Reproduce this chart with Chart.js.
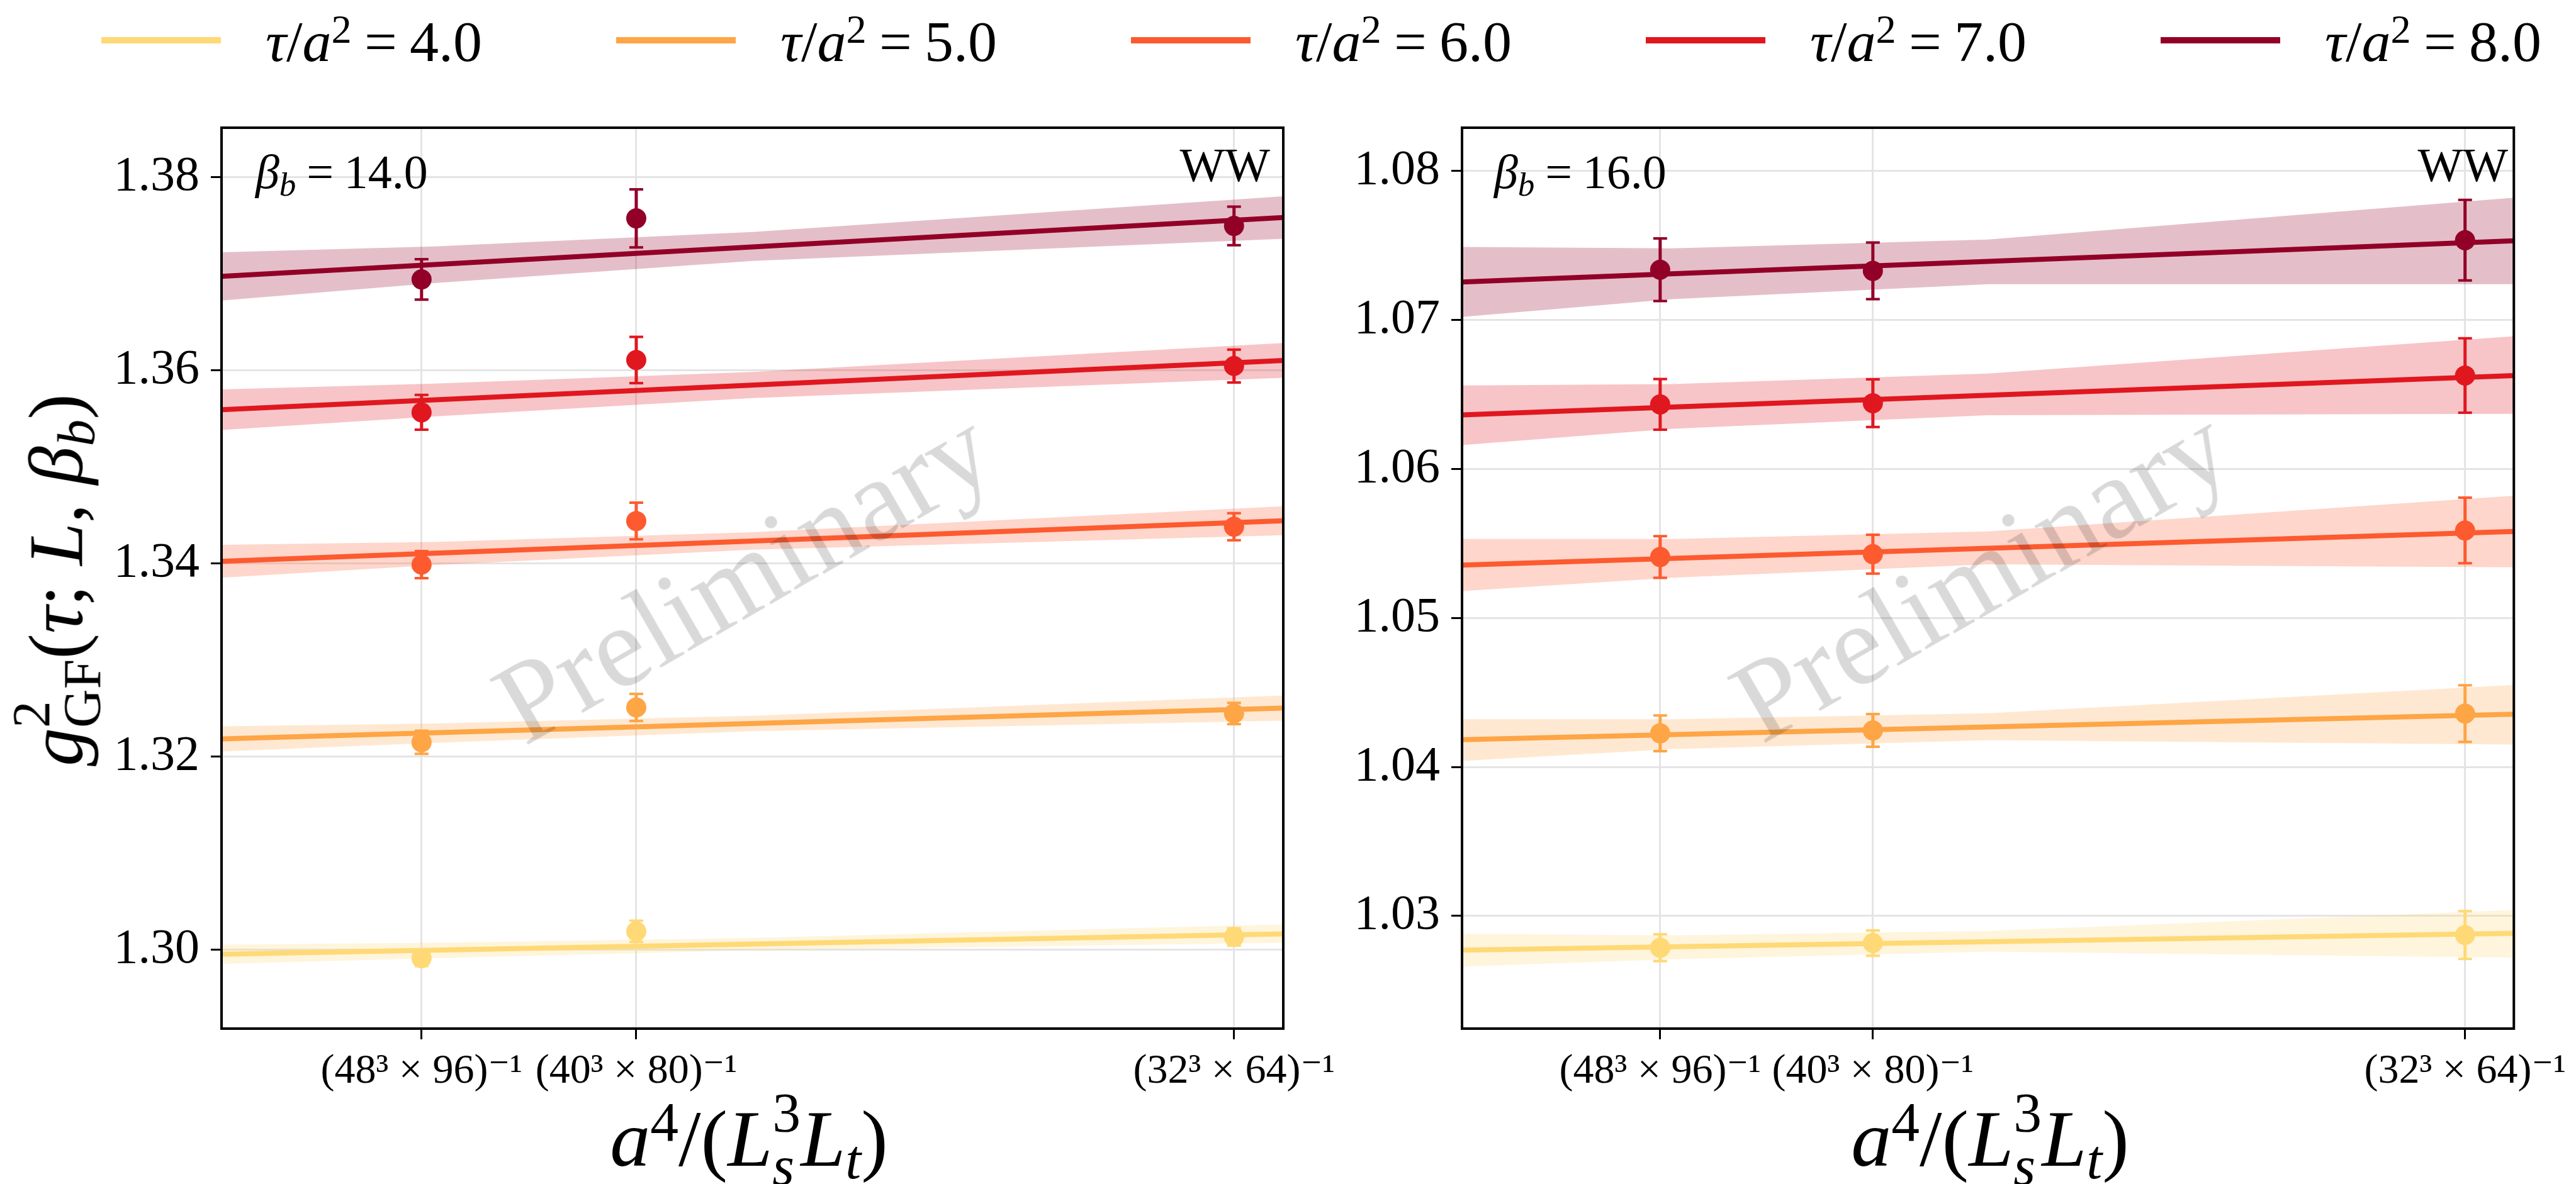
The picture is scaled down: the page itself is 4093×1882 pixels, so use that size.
<!DOCTYPE html>
<html>
<head>
<meta charset="utf-8">
<script src="https://cdn.jsdelivr.net/npm/chart.js@4.4.0/dist/chart.umd.min.js"></script>
<style>
body { margin:0; background:#fff; }
#fig { position:relative; width:4093px; height:1882px; overflow:hidden; font-family:"Liberation Serif","DejaVu Serif",serif; color:#000; background:#fff; }
canvas { position:absolute; top:0; }
.txt { position:absolute; white-space:nowrap; line-height:1; }
.sup { font-size:0.7em; position:relative; top:-0.45em; }
.sub { font-size:0.7em; position:relative; top:0.22em; }
.stack { display:inline-block; font-size:0.7em; line-height:0.95; vertical-align:-0.34em; text-align:left; margin-top:-0.6em; }
.stack span { display:block; }
.eq { margin:0 0.22em; }
.swatch { position:absolute; height:10px; width:190px; top:59px; }
.mark { position:absolute; color:rgba(0,0,0,0.15); font-size:185px; white-space:nowrap; line-height:1; transform:translate(-50%,-50%) rotate(-30deg); }
</style>
</head>
<body>
<div id="fig">
  <canvas id="left" width="2200" height="1882" style="left:0px"></canvas>
  <canvas id="right" width="2003" height="1882" style="left:2090px"></canvas>
</div>
<script>
// series
const tauValues = ['4.0', '5.0', '6.0', '7.0', '8.0'];
const colors = ['#fed976', '#fea546', '#fd5a30', '#e0171f', '#920028'];
const bandColors = ['rgba(254,217,118,0.25)', 'rgba(254,165,70,0.25)', 'rgba(253,90,48,0.25)', 'rgba(224,23,31,0.25)', 'rgba(146,0,40,0.25)'];

// x axis: a^4/(Ls^3 Lt) for 48^3x96, 40^3x80, 32^3x64
const xPoints = [9.419e-8, 1.953e-7, 4.768e-7];
const xTickLabels = ['(48\u00b3 \u00d7 96)\u207b\u00b9', '(40\u00b3 \u00d7 80)\u207b\u00b9', '(32\u00b3 \u00d7 64)\u207b\u00b9'];
const fitX = [0, 5.0e-7];
const bandX = [0, 1.0e-7, 2.5e-7, 5.0e-7];

// beta_b = 14.0
const yTicks14 = [1.30, 1.32, 1.34, 1.36, 1.38];
const points14 = [
  [1.29909, 1.30187, 1.30130],
  [1.32145, 1.32506, 1.32444],
  [1.33985, 1.34437, 1.34378],
  [1.35562, 1.36104, 1.36042],
  [1.36939, 1.37571, 1.37493]
];
const errors14 = [
  [0.0008, 0.0011, 0.0009],
  [0.0012, 0.0014, 0.0011],
  [0.0014, 0.0019, 0.0014],
  [0.0018, 0.0024, 0.0017],
  [0.0021, 0.0030, 0.0020]
];
const fit14 = [[1.2995, 1.3016], [1.3218, 1.3250], [1.3402, 1.3444], [1.3559, 1.3610], [1.3697, 1.3758]];
const bandUp14 = [
  [1.3005, 1.3007, 1.3012, 1.3026],
  [1.3231, 1.3234, 1.3242, 1.3263],
  [1.3419, 1.3422, 1.3432, 1.3459],
  [1.3580, 1.3586, 1.3598, 1.3628],
  [1.3722, 1.3728, 1.3743, 1.3780]
];
const bandLo14 = [
  [1.2985, 1.2991, 1.2999, 1.3007],
  [1.3205, 1.3214, 1.3226, 1.3237],
  [1.3385, 1.3398, 1.3414, 1.3429],
  [1.3538, 1.3552, 1.3571, 1.3592],
  [1.3672, 1.3690, 1.3713, 1.3736]
];

// beta_b = 16.0
const yTicks16 = [1.03, 1.04, 1.05, 1.06, 1.07, 1.08];
const points16 = [
  [1.02787, 1.02818, 1.02872],
  [1.04226, 1.04245, 1.04358],
  [1.05409, 1.05428, 1.05587],
  [1.06433, 1.06441, 1.06627],
  [1.07337, 1.07329, 1.07535]
];
const errors16 = [
  [0.0009, 0.00085, 0.0016],
  [0.0012, 0.0011, 0.0019],
  [0.0014, 0.0013, 0.0022],
  [0.0017, 0.0016, 0.0025],
  [0.0021, 0.0019, 0.0027]
];
const fit16 = [[1.02771, 1.02884], [1.04183, 1.04354], [1.05355, 1.05580], [1.06363, 1.06627], [1.07255, 1.07531]];
const bandUp16 = [
  [1.0288, 1.0287, 1.0290, 1.0304],
  [1.0432, 1.0432, 1.0436, 1.0455],
  [1.0553, 1.0553, 1.0558, 1.0582],
  [1.0656, 1.0657, 1.0664, 1.0689],
  [1.0749, 1.0748, 1.0754, 1.0782]
];
const bandLo16 = [
  [1.0266, 1.0271, 1.0276, 1.0272],
  [1.0404, 1.0412, 1.0418, 1.0415],
  [1.0518, 1.0527, 1.0536, 1.0534],
  [1.0616, 1.0627, 1.0636, 1.0637],
  [1.0702, 1.0714, 1.0724, 1.0724]
];

const FONT = '"Liberation Serif", "DejaVu Serif", serif';
const GRID = '#e4e4e4';

// error bars with caps, drawn through the chart scales
const errorBars = {
  id: 'errorBars',
  afterDatasetsDraw(chart) {
    const ctx = chart.ctx, xs = chart.scales.x, ys = chart.scales.y;
    chart.data.datasets.forEach(ds => {
      if (!ds.errors) return;
      ctx.save();
      ctx.strokeStyle = ds.backgroundColor;
      ds.data.forEach((p, j) => {
        const x = xs.getPixelForValue(p.x);
        const yt = ys.getPixelForValue(p.y + ds.errors[j]);
        const yb = ys.getPixelForValue(p.y - ds.errors[j]);
        ctx.lineWidth = 5;
        ctx.beginPath(); ctx.moveTo(x, yt); ctx.lineTo(x, yb); ctx.stroke();
        ctx.lineWidth = 4;
        ctx.beginPath();
        ctx.moveTo(x - 11, yt); ctx.lineTo(x + 11, yt);
        ctx.moveTo(x - 11, yb); ctx.lineTo(x + 11, yb);
        ctx.stroke();
      });
      ctx.restore();
    });
  }
};

const frame = {
  id: 'frame',
  afterDraw(chart) {
    const a = chart.chartArea, ctx = chart.ctx;
    ctx.save();
    ctx.strokeStyle = '#000';
    ctx.lineWidth = 4;
    ctx.strokeRect(a.left, a.top, a.right - a.left, a.bottom - a.top);
    ctx.restore();
  }
};

function makePanel(id, p) {
  const datasets = [];
  tauValues.forEach((t, i) => {
    datasets.push({ data: bandX.map((x, k) => ({ x, y: p.bandLo[i][k] })), showLine: true,
      borderColor: 'transparent', borderWidth: 0, pointRadius: 0, fill: false, order: 3 });
    datasets.push({ data: bandX.map((x, k) => ({ x, y: p.bandUp[i][k] })), showLine: true,
      borderColor: 'transparent', borderWidth: 0, pointRadius: 0, fill: '-1', backgroundColor: bandColors[i], order: 3 });
    datasets.push({ data: fitX.map((x, k) => ({ x, y: p.fit[i][k] })), showLine: true,
      borderColor: colors[i], borderWidth: 8, pointRadius: 0, fill: false, order: 2 });
    datasets.push({ data: xPoints.map((x, k) => ({ x, y: p.points[i][k] })), errors: p.errors[i], showLine: false,
      backgroundColor: colors[i], borderWidth: 0, pointRadius: 16, order: 1 });
  });

  return new Chart(document.getElementById(id), {
    type: 'scatter',
    data: { datasets },
    options: {
      responsive: false,
      animation: false,
      devicePixelRatio: 1,
      layout: { autoPadding: false, padding: { top: 203, right: p.padRight, left: 0, bottom: 0 } },
      plugins: { legend: { display: false }, tooltip: { enabled: false } },
      scales: {
        x: {
          type: 'linear', min: 0, max: 5.0e-7,
          afterBuildTicks: s => { s.ticks = xPoints.map(v => ({ value: v })); },
          afterFit: s => { s.height = 247; },
          ticks: { autoSkip: false, maxRotation: 0, minRotation: 0, color: '#000', padding: 12,
            font: { family: FONT, size: 66 }, callback: (v, idx) => xTickLabels[idx] },
          grid: { color: GRID, lineWidth: 3, tickColor: '#000', tickWidth: 3, tickLength: 17 },
          border: { display: false }
        },
        y: {
          type: 'linear', min: p.yMin, max: p.yMax,
          afterBuildTicks: s => { s.ticks = p.yTicks.map(v => ({ value: v })); },
          afterFit: s => { s.width = p.yWidth; },
          ticks: { color: '#000', padding: 18, font: { family: FONT, size: 78 }, callback: v => v.toFixed(2) },
          grid: { color: GRID, lineWidth: 3, tickColor: '#000', tickWidth: 3, tickLength: 17 },
          border: { display: false }
        }
      }
    },
    plugins: [errorBars, frame]
  });
}

makePanel('left', { points: points14, errors: errors14, fit: fit14, bandUp: bandUp14, bandLo: bandLo14,
  yTicks: yTicks14, yMin: 1.2918, yMax: 1.3851, yWidth: 352, padRight: 161 });
makePanel('right', { points: points16, errors: errors16, fit: fit16, bandUp: bandUp16, bandLo: bandLo16,
  yTicks: yTicks16, yMin: 1.02244, yMax: 1.0829, yWidth: 233, padRight: 86 });

// text overlays
const fig = document.getElementById('fig');
function addText(html, style, cls) {
  const d = document.createElement('div');
  d.className = cls || 'txt';
  d.innerHTML = html;
  Object.assign(d.style, style);
  fig.appendChild(d);
  return d;
}

// legend across the top
tauValues.forEach((t, i) => {
  const x0 = 161 + i * 818;
  const sw = document.createElement('div');
  sw.className = 'swatch';
  sw.style.left = x0 + 'px';
  sw.style.background = colors[i];
  fig.appendChild(sw);
  addText('<i>\u03c4</i>/<i>a</i><span class="sup">2</span><span class="eq">=</span>' + t,
    { left: (x0 + 261) + 'px', top: '20px', fontSize: '92px' });
});

// y axis title
addText('<i>g</i><span class="stack"><span>2</span><span>GF</span></span>(<i>\u03c4</i>; <i>L</i>, <i>\u03b2</i><span class="sub"><i>b</i></span>)',
  { left: '100px', top: '922px', fontSize: '122px', transform: 'translate(-50%,-50%) rotate(-90deg)' });

// x axis titles and panel annotations
const xTitle = '<i>a</i><span class="sup">4</span>/(<i>L</i><span class="stack"><span>3</span><span><i>s</i></span></span><i>L</i><span class="sub"><i>t</i></span>)';
[[1190, '14.0', 406, 2018], [3162, '16.0', 2374, 3985]].forEach(([cx, beta, bx, wwx]) => {
  addText(xTitle, { left: cx + 'px', top: '1746px', fontSize: '128px', transform: 'translateX(-50%)' });
  addText('<i>\u03b2</i><span class="sub"><i>b</i></span><span class="eq">=</span>' + beta, { left: bx + 'px', top: '235px', fontSize: '76px' });
  addText('WW', { left: wwx + 'px', top: '224px', fontSize: '76px', transform: 'translateX(-100%)' });
});

// watermark
addText('Preliminary', { left: '1180px', top: '914px' }, 'mark');
addText('Preliminary', { left: '3146px', top: '911px' }, 'mark');
</script>
</body>
</html>
